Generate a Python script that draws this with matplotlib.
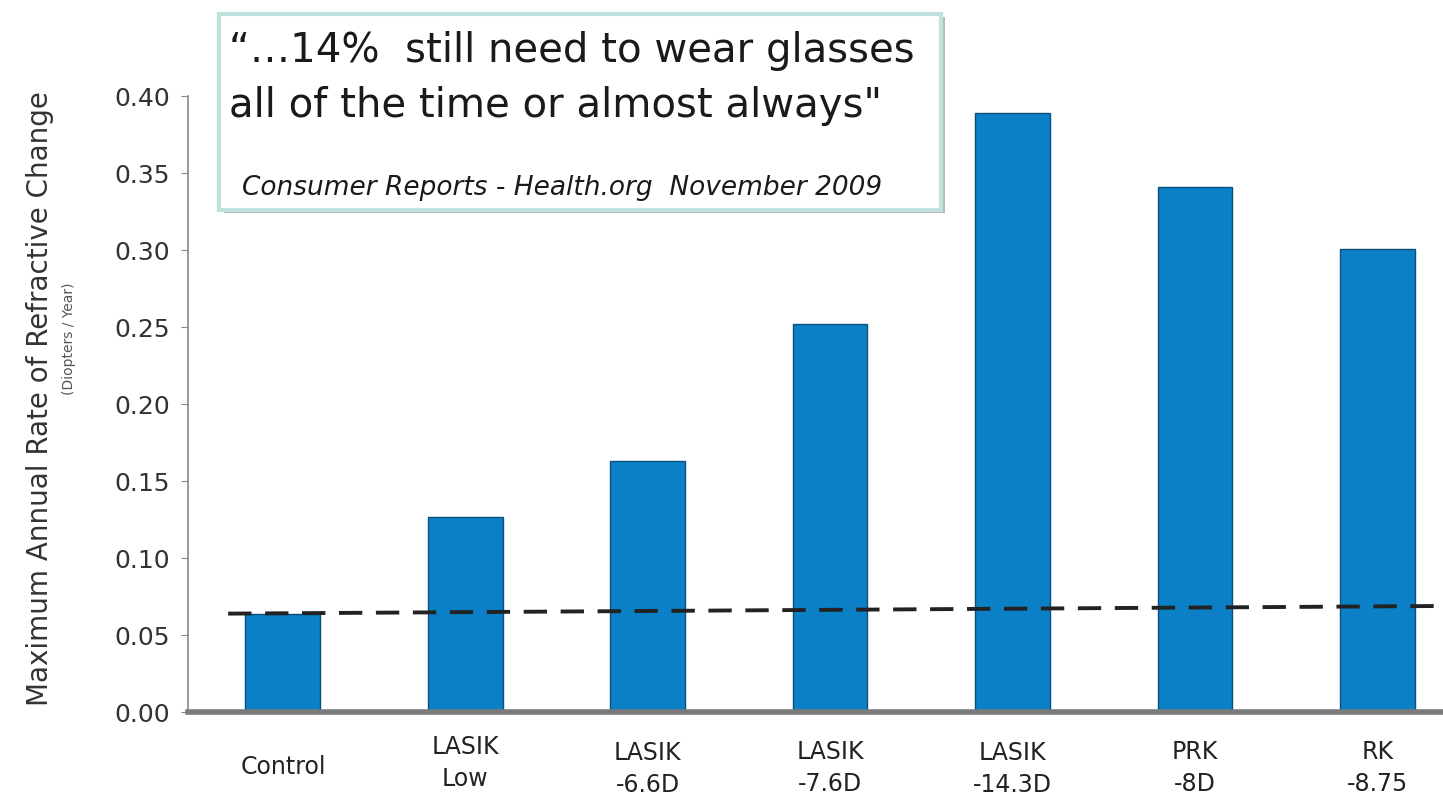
import matplotlib.pyplot as plt
from matplotlib.patches import FancyBboxPatch

# data
categories = ['Control', 'LASIK\nLow', 'LASIK\n-6.6D', 'LASIK\n-7.6D', 'LASIK\n-14.3D', 'PRK\n-8D', 'RK\n-8.75']
rates = [0.064, 0.127, 0.163, 0.252, 0.389, 0.341, 0.301]
control_line = [0.064, 0.069]   # dashed reference level, left end / right end
yticks = [0.00, 0.05, 0.10, 0.15, 0.20, 0.25, 0.30, 0.35, 0.40]

plt.rcParams['font.family'] = ['DejaVu Sans']

fig = plt.figure(figsize=(14.43, 8.02), dpi=100)
ax = fig.add_axes([0.1303, 0.112, 0.8697, 0.768])

x = list(range(len(categories)))
ax.bar(x, rates, width=0.41, color='#0b80c6', edgecolor='#0a4f7e', linewidth=1.0, zorder=2)

ax.set_xlim(-0.52, 6.36)
ax.set_ylim(0, 0.40)
ax.set_yticks(yticks)
ax.set_yticklabels(['%.2f' % v for v in yticks], fontsize=18, color='#333333')
ax.set_xticks(x)
ax.set_xticklabels(categories, fontsize=17, color='#222222', linespacing=1.4)
ax.tick_params(axis='x', length=0, pad=12)
ax.tick_params(axis='y', length=5, color='#888888', pad=8)

# nudge the labels down a little (Control sits between the two text rows)
for lbl, dy in zip(ax.get_xticklabels(), [0.042, 0.01, 0.02, 0.018, 0.02, 0.018, 0.018]):
    lbl.set_y(-dy)

ax.spines['top'].set_visible(False)
ax.spines['right'].set_visible(False)
ax.spines['left'].set_color('#888888')
ax.spines['left'].set_linewidth(1.2)
ax.spines['bottom'].set_color('#7a7a7a')
ax.spines['bottom'].set_linewidth(4)
ax.spines['bottom'].set_zorder(3)

# dashed level of the control group
ax.plot([-0.3, 6.4], control_line, color='#222222', lw=2.8, ls=(0, (6, 3.5)), zorder=3,
        clip_on=False)

fig.text(0.028, 0.503, 'Maximum Annual Rate of Refractive Change', rotation=90,
         ha='center', va='center', fontsize=20, color='#333333')
fig.text(0.048, 0.578, '(Diopters / Year)', rotation=90, ha='center', va='center',
         fontsize=10, color='#555555')

# quote box
box = FancyBboxPatch((0.152, 0.738), 0.500, 0.245, boxstyle='square,pad=0',
                     transform=fig.transFigure, facecolor='white', edgecolor='#bfe3dc',
                     linewidth=3, zorder=5)
shadow = FancyBboxPatch((0.155, 0.734), 0.500, 0.245, boxstyle='square,pad=0',
                        transform=fig.transFigure, facecolor='#b8b8b8', edgecolor='none',
                        zorder=4)
fig.patches.extend([shadow, box])

fig.text(0.159, 0.937, '\u201c\u202614%  still need to wear glasses', fontsize=29,
         color='#1a1a1a', va='center', zorder=6)
fig.text(0.159, 0.868, 'all of the time or almost always"', fontsize=29,
         color='#1a1a1a', va='center', zorder=6)
fig.text(0.168, 0.766, 'Consumer Reports - Health.org  November 2009', fontsize=19,
         style='italic', color='#1a1a1a', va='center', zorder=6)

fig.savefig('out.png', dpi=100)
